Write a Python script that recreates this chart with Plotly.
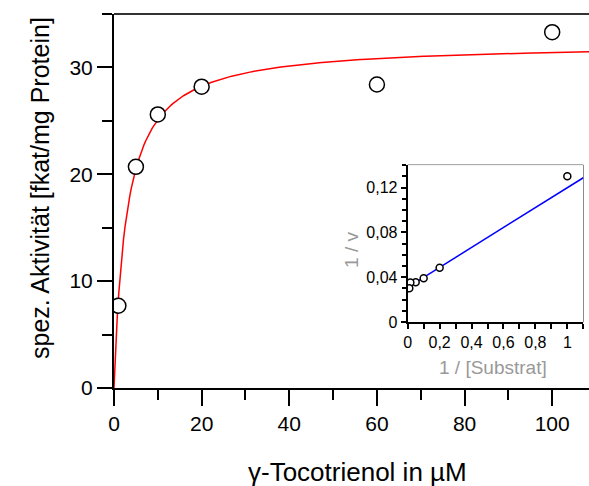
import plotly.graph_objects as go

# Main data (substrate concentration in µM, specific activity fkat/mg protein)
conc = [1, 5, 10, 20, 60, 100]
activity = [7.7, 20.7, 25.6, 28.2, 28.4, 33.3]

vmax = 32.3
km = 2.87

# Lineweaver-Burk inset data
inv_s = [1.0, 0.2, 0.1, 0.05, 0.0167, 0.01]
inv_v = [0.130, 0.0483, 0.0391, 0.0355, 0.0352, 0.0300]

x_tick_vals = [0, 20, 40, 60, 80, 100]
y_tick_vals = [0, 10, 20, 30]

FONT = "Arial, Liberation Sans, sans-serif"

# fitted curves
xmax_main = 108.4
n = 300
curve_x = [xmax_main * i / (n - 1) for i in range(n)]
curve_y = [vmax * s / (km + s) for s in curve_x]
lb_x = [0.0, 1.1]
lb_y = [1 / vmax + (km / vmax) * v for v in lb_x]

fig = go.Figure()
fig.add_trace(go.Scatter(x=curve_x, y=curve_y, mode="lines",
                         line=dict(color="#ff0000", width=1.5), hoverinfo="skip"))
fig.add_trace(go.Scatter(x=conc, y=activity, mode="markers",
                         marker=dict(size=15, color="white", line=dict(color="black", width=1.5))))
fig.add_trace(go.Scatter(x=lb_x, y=lb_y, mode="lines", xaxis="x2", yaxis="y2",
                         line=dict(color="#0000ff", width=1.5), hoverinfo="skip"))
fig.add_trace(go.Scatter(x=inv_s, y=inv_v, mode="markers", xaxis="x2", yaxis="y2",
                         marker=dict(size=7, color="white", line=dict(color="black", width=1.5))))

ix0, ix1 = 0.6183, 0.988
iy0, iy1 = 0.1765, 0.596

fig.update_layout(
    width=589, height=486,
    margin=dict(l=114, r=0, t=14, b=98),
    paper_bgcolor="white", plot_bgcolor="white",
    showlegend=False,
    separators=",.",
    font=dict(family=FONT, size=21, color="black"),
    xaxis=dict(range=[0, xmax_main], tickvals=x_tick_vals, ticks="outside", ticklen=16,
               tickwidth=2, tickcolor="black", showline=True, linecolor="black", linewidth=2,
               showgrid=False, zeroline=False,
               minor=dict(dtick=10, ticks="outside", ticklen=10, tickwidth=2, tickcolor="black", showgrid=False),
               tickfont=dict(size=21)),
    yaxis=dict(range=[0, 35], tickvals=y_tick_vals, ticks="outside", ticklen=15,
               tickwidth=2, tickcolor="black", showline=True, linecolor="black", linewidth=2,
               showgrid=False, zeroline=False,
               minor=dict(dtick=5, ticks="outside", ticklen=10, tickwidth=2, tickcolor="black", showgrid=False),
               tickfont=dict(size=21)),
    xaxis2=dict(domain=[ix0, ix1], anchor="y2", range=[0, 1.1], dtick=0.2, tick0=0,
                ticks="outside", ticklen=5, tickwidth=1.5, tickcolor="black",
                showline=True, linecolor="black", linewidth=2, showgrid=False, zeroline=False,
                minor=dict(dtick=0.1, ticks="outside", ticklen=5, tickwidth=1.5, tickcolor="black", showgrid=False),
                tickfont=dict(size=16)),
    yaxis2=dict(domain=[iy0, iy1], anchor="x2", range=[0, 0.14], dtick=0.04, tick0=0,
                ticks="outside", ticklen=5, tickwidth=1.5, tickcolor="black",
                showline=True, linecolor="black", linewidth=2, showgrid=False, zeroline=False,
                minor=dict(dtick=0.01, ticks="outside", ticklen=4, tickwidth=1.5, tickcolor="black", showgrid=False),
                tickfont=dict(size=16)),
    shapes=[
        dict(type="rect", xref="x2 domain", yref="y2 domain", x0=0, x1=1, y0=0, y1=1,
             fillcolor="#e4e4e4", line=dict(color="#333333", width=1), layer="below"),
        dict(type="line", xref="paper", yref="paper", x0=0, x1=1, y0=1, y1=1,
             line=dict(color="#333333", width=2)),
    ],
    annotations=[
        dict(text="γ-Tocotrienol in µM", xref="paper", yref="paper", x=0.5116, y=-0.2246,
             xanchor="center", yanchor="middle", showarrow=False, font=dict(size=26)),
        dict(text="spez. Aktivität [fkat/mg Protein]", xref="paper", yref="paper", x=-0.1558, y=0.5348,
             xanchor="center", yanchor="middle", showarrow=False, textangle=-90, font=dict(size=25)),
        dict(text="1 / [Substrat]", xref="paper", yref="paper", x=0.798, y=0.0535,
             xanchor="center", yanchor="middle", showarrow=False, font=dict(size=19, color="#999999")),
        dict(text="1 / v", xref="paper", yref="paper", x=0.501, y=0.369,
             xanchor="center", yanchor="middle", showarrow=False, textangle=-90,
             font=dict(size=19, color="#999999")),
    ],
)

fig.write_html("out.html")
